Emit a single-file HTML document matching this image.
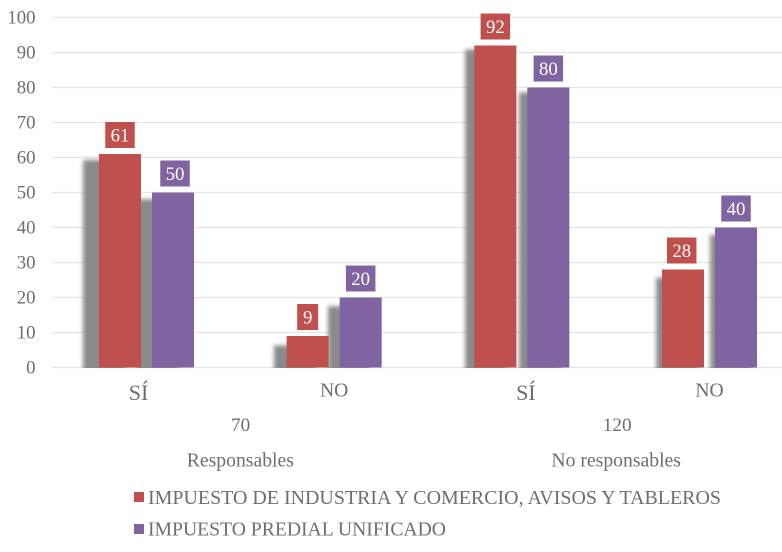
<!DOCTYPE html>
<html lang="es">
<head>
<meta charset="utf-8">
<title>Impuestos por responsables</title>
<style>
  html, body { margin: 0; padding: 0; background: #fff; }
  body { width: 782px; height: 552px; overflow: hidden; }
  svg { display: block; }
  text { font-family: "Liberation Serif", serif; fill: #6e6e6e; }
</style>
</head>
<body>
<svg id="chart" width="782" height="552" viewBox="0 0 782 552" xmlns="http://www.w3.org/2000/svg">
  <defs>
    <filter id="soft-shadow" x="-60%" y="-20%" width="220%" height="140%">
      <feGaussianBlur stdDeviation="2.1"/>
    </filter>
    <clipPath id="plot-clip"><rect x="0" y="0" width="782" height="368"/></clipPath>
  </defs>
  <g id="grid"></g>
  <g id="shadows" clip-path="url(#plot-clip)"></g>
  <g id="bars"></g>
  <g id="labels"></g>
  <g id="y-axis"></g>
  <g id="x-axis"></g>
  <g id="legend">
    <g>
      <rect x="134" y="492" width="10" height="10" fill="#c0504d"/>
      <text x="148" y="504" font-size="20" textLength="573" lengthAdjust="spacingAndGlyphs">IMPUESTO DE INDUSTRIA Y COMERCIO, AVISOS Y TABLEROS</text>
    </g>
    <g>
      <rect x="134" y="524" width="10" height="10" fill="#8064a2"/>
      <text x="148" y="535.5" font-size="20" textLength="298" lengthAdjust="spacingAndGlyphs">IMPUESTO PREDIAL UNIFICADO</text>
    </g>
  </g>
</svg>
<script>
const categories = ["SÍ", "NO", "SÍ", "NO"];
const subgroupLabels = ["70", "120"];
const groupLabels = ["Responsables", "No responsables"];
const industriaValues = [61, 9, 92, 28];
const predialValues = [50, 20, 80, 40];
const yTicks = [0, 10, 20, 30, 40, 50, 60, 70, 80, 90, 100];

const NS = "http://www.w3.org/2000/svg";
const seriesList = [
  { key: "industria", values: industriaValues, color: "#c0504d" },
  { key: "predial", values: predialValues, color: "#8064a2" }
];

const plotLeft = 52.67, catWidth = 187.67;
const yBase = 367.5, yScale = 3.5, barW = 42, barGap = 11;

function yPos(v) { return yBase - v * yScale; }
function catCenter(i) { return plotLeft + catWidth * (i + 0.5); }
function barLeft(i, s) { return catCenter(i) - barW - barGap / 2 + s * (barW + barGap); }
function shadowDx(x) { return 17.8 - 0.018 * x; }
function shadowDy(v) { return 10 - v * 0.065; }
function labelNudge(i, s) {
  if (i === 0 && s === 1) return 2;
  if (i === 3 && s === 0) return -1.3;
  return 0;
}

function make(parent, tag, attrs, txt) {
  const el = document.createElementNS(NS, tag);
  for (const k in attrs) el.setAttribute(k, attrs[k]);
  if (txt !== undefined) el.textContent = txt;
  document.getElementById(parent).appendChild(el);
  return el;
}

yTicks.forEach(function (t) {
  const line = make("grid", "line", { x1: 52, x2: 782, y1: yPos(t), y2: yPos(t), stroke: "#e4e4e4", "stroke-width": 1.3 });
  
  
  const label = make("y-axis", "text", { x: 35.5, y: yPos(t) + 6, "text-anchor": "end", "font-size": 18.8 }, String(t));
  
  
});

categories.forEach(function (c, i) {
  seriesList.forEach(function (s, si) {
    const v = s.values[i];
    const x = barLeft(i, si);
    const top = yPos(v);
    const h = yBase - top;

    const sh = make("shadows", "rect", {
      x: x - shadowDx(x), y: top + shadowDy(v), width: barW, height: Math.max(0, h - shadowDy(v)) + 6,
      fill: "#8a8a8a", filter: "url(#soft-shadow)"
    });
    
    

    const bar = make("bars", "rect", { x: x, y: top, width: barW, height: h, fill: s.color });
    
    

    const txt = String(v);
    const boxW = txt.length > 1 ? 29.5 : 21;
    const cx = x + barW / 2 + labelNudge(i, si);
    const box = make("labels", "rect", { x: cx - boxW / 2, y: top - 32, width: boxW, height: 26, fill: s.color });
    
    
    const lab = make("labels", "text", { x: cx, y: top - 12.5, "text-anchor": "middle", "font-size": 18.8 }, txt);
    lab.style.fill = "#ffffff";
    
    
  });

  const isSi = c !== "NO";
  const nudge = i === 0 ? -8 : (i === 2 ? 4 : 0);
  const cat = make("x-axis", "text", {
    x: catCenter(i) + nudge, y: isSi ? 400 : 396.5, "text-anchor": "middle", "font-size": isSi ? 22 : 19.6
  }, c);
  
  
});

subgroupLabels.forEach(function (l, g) {
  const center = (catCenter(g * 2) + catCenter(g * 2 + 1)) / 2;
  const sub = make("x-axis", "text", { x: center + (g === 0 ? 0.3 : 1.5), y: 431, "text-anchor": "middle", "font-size": 19.2 }, l);
  
  
  const grp = make("x-axis", "text", { x: center + (g === 0 ? 0 : 0.5), y: 466.5, "text-anchor": "middle", "font-size": 19.7 }, groupLabels[g]);
  
  
});
</script>
</body>
</html>
